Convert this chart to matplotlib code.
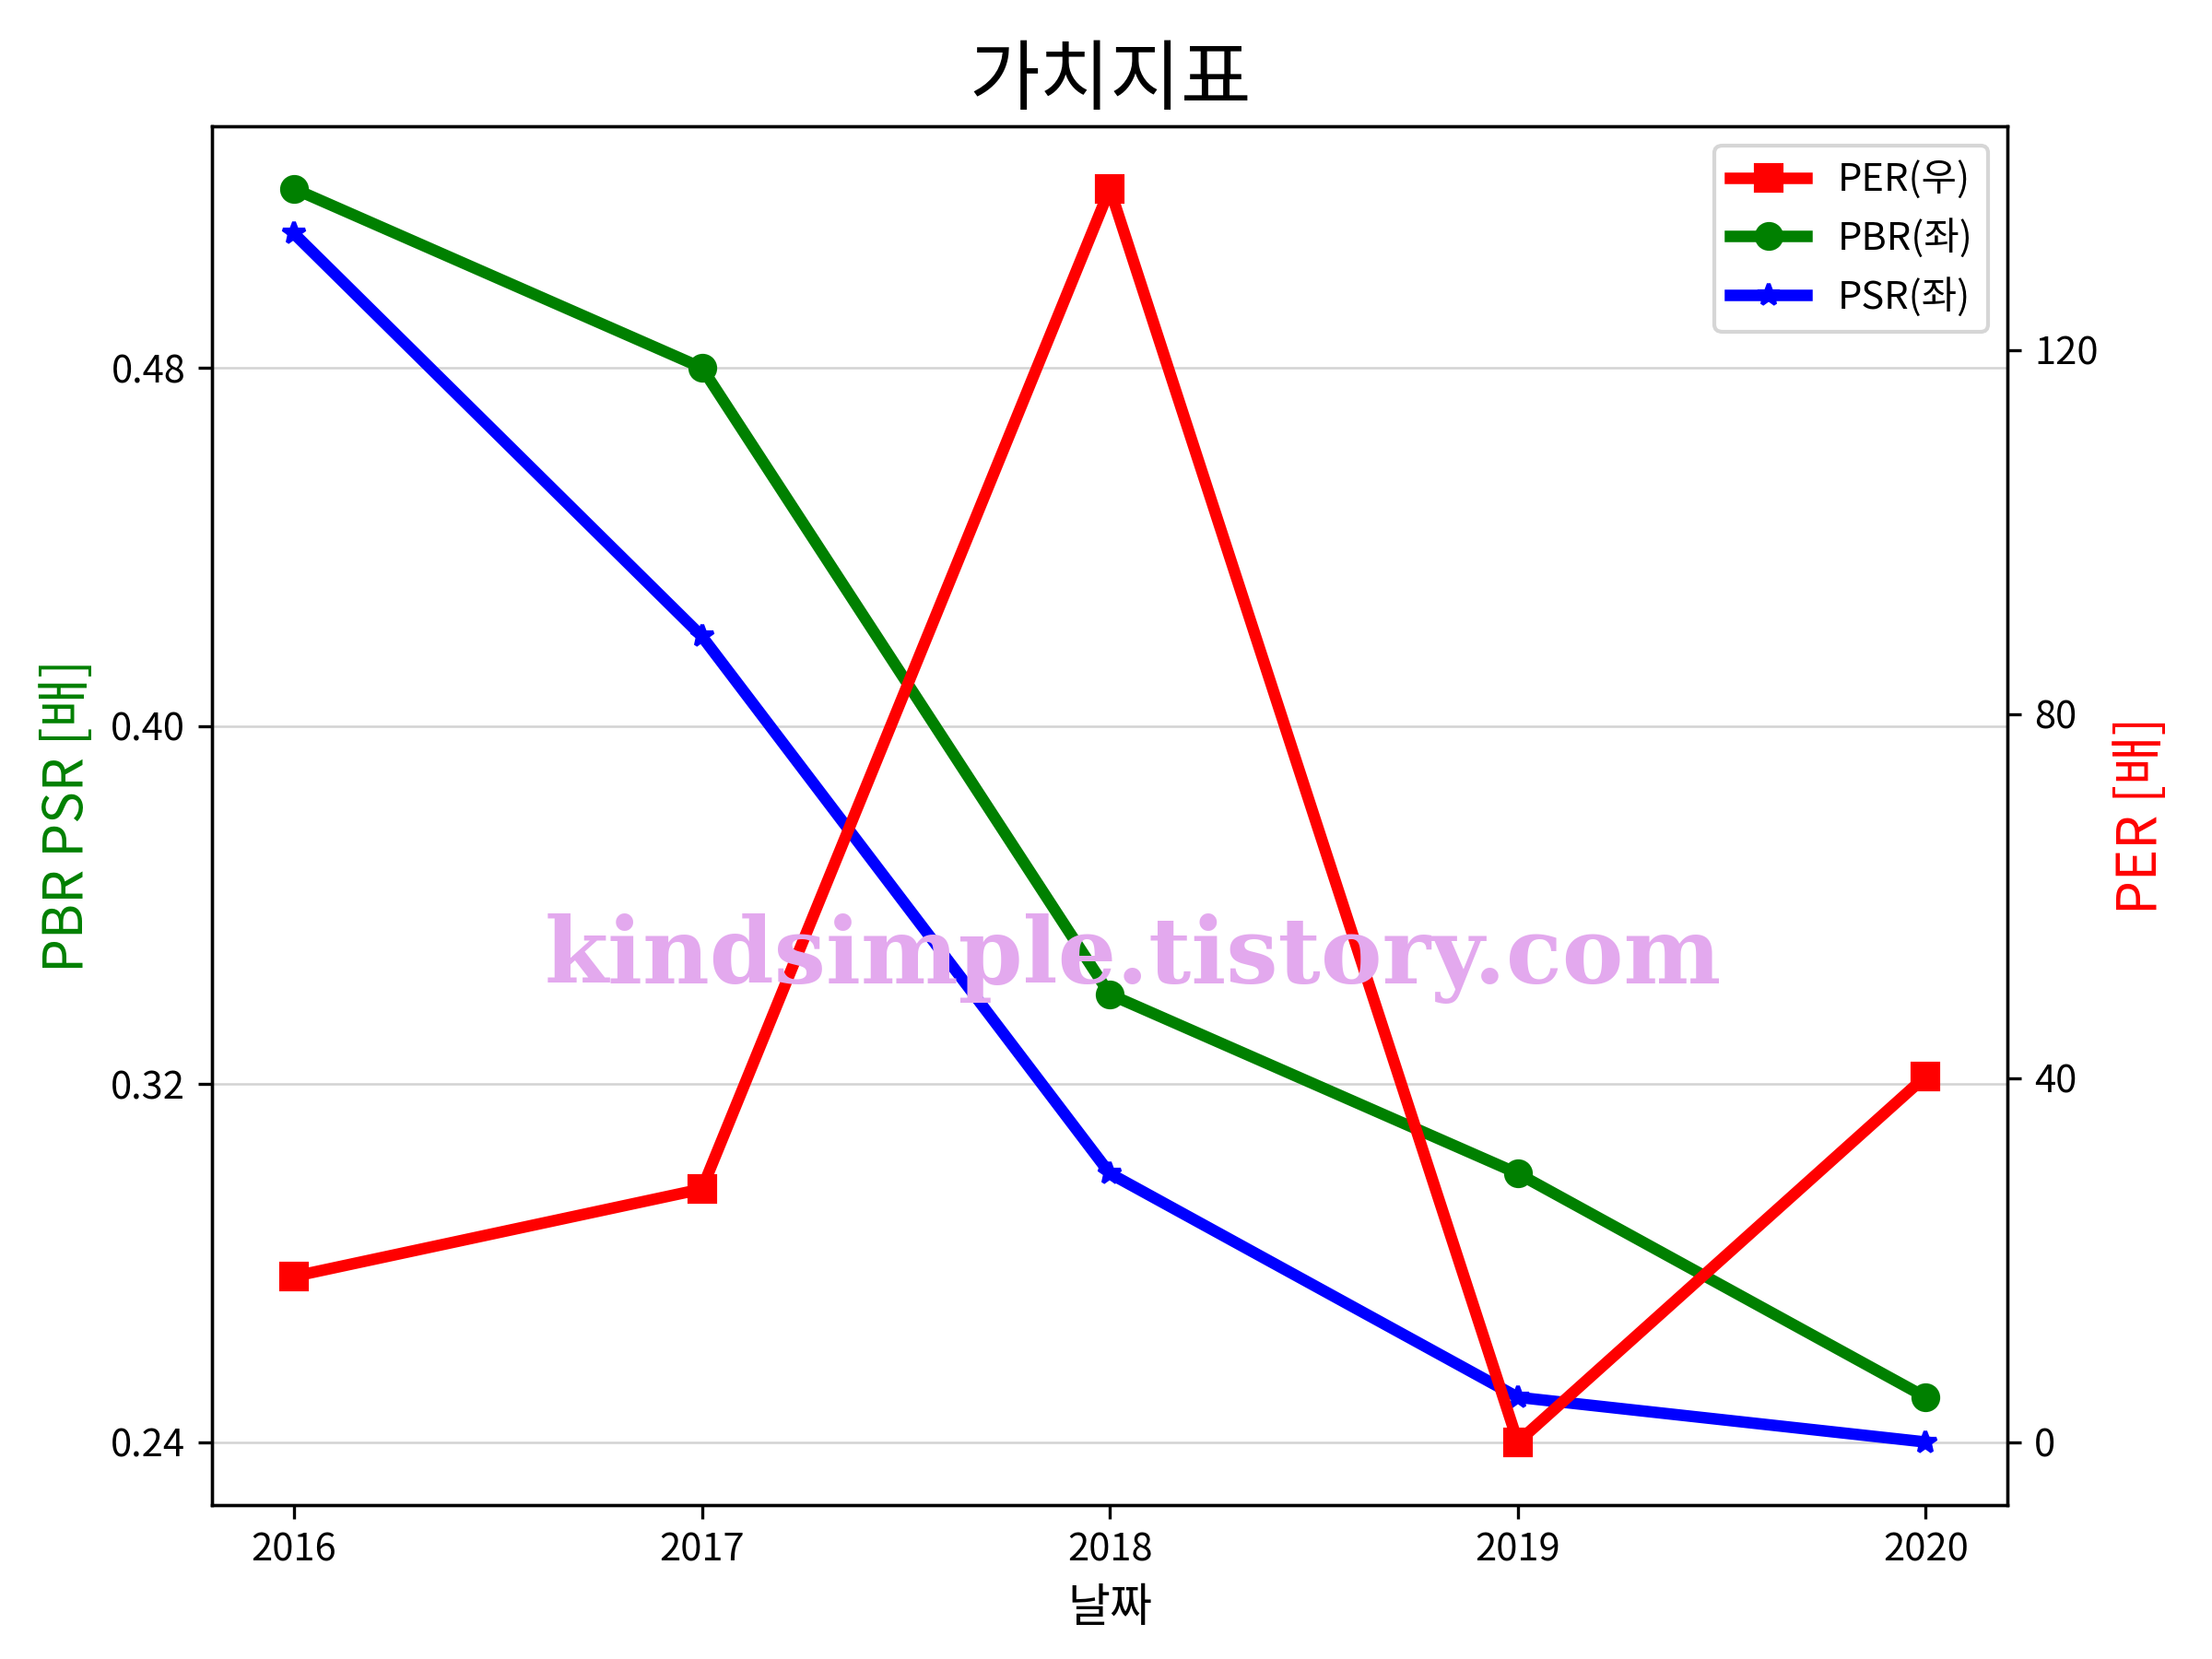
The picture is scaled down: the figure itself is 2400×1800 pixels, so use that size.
import matplotlib
matplotlib.use("Agg")
import matplotlib.pyplot as plt
from matplotlib.ticker import FixedLocator

plt.rcParams['font.family'] = ['Noto Sans CJK KR', 'DejaVu Sans']
plt.rcParams['axes.unicode_minus'] = False

# data
years = ['2016', '2017', '2018', '2019', '2020']
per = [18.2, 27.8, 137.7, 0.0, 40.2]
pbr = [0.52, 0.48, 0.34, 0.30, 0.25]
psr = [0.51, 0.42, 0.30, 0.25, 0.24]
left_ticks = [0.24, 0.32, 0.40, 0.48]
right_ticks = [0, 40, 80, 120]

fig, ax1 = plt.subplots(figsize=(8, 6), dpi=300)
fig.subplots_adjust(left=0.096, right=0.9075, bottom=0.093, top=0.924)
ax2 = ax1.twinx()

# left axis: PBR, PSR
l2, = ax1.plot(years, pbr, color='green', marker='o', linewidth=3, markersize=6.5, label='PBR(좌)')
l3, = ax1.plot(years, psr, color='blue', marker='*', linewidth=3, markersize=6, label='PSR(좌)')
# right axis: PER
l1, = ax2.plot(years, per, color='red', marker='s', linewidth=3, markersize=6.5, label='PER(우)')

ax1.yaxis.set_major_locator(FixedLocator(left_ticks))
ax2.yaxis.set_major_locator(FixedLocator(right_ticks))
ax1.grid(axis='y', color='lightgray', linewidth=0.6)

ax1.set_xlabel('날짜', fontsize=12)
ax1.set_ylabel('PBR PSR [배]', color='green', fontsize=14)
ax2.set_ylabel('PER [배]', color='red', fontsize=14)
ax1.set_title('가치지표', fontsize=20)

ax2.legend(handles=[l1, l2, l3], loc='upper right', fontsize=10)

# watermark
fig.text(0.512, 0.422, 'kindsimple.tistory.com', color='#E3A9EE',
         fontsize=24, fontweight='heavy', family='DejaVu Serif',
         ha='center', va='center', zorder=10)

fig.savefig('out.png', dpi=300)
